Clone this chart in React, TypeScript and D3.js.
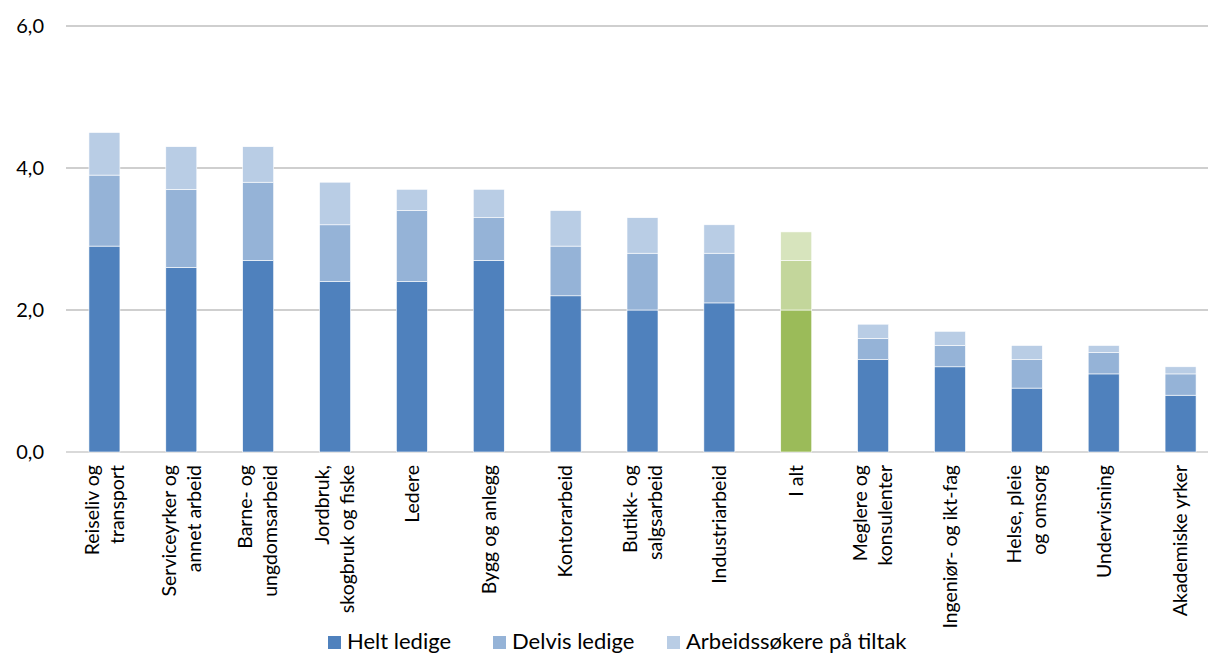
import React from "react";
import * as d3 from "d3";

const categories = [
  "Reiseliv og|transport",
  "Serviceyrker og|annet arbeid",
  "Barne- og|ungdomsarbeid",
  "Jordbruk,|skogbruk og fiske",
  "Ledere",
  "Bygg og anlegg",
  "Kontorarbeid",
  "Butikk- og|salgsarbeid",
  "Industriarbeid",
  "I alt",
  "Meglere og|konsulenter",
  "Ingeniør- og ikt-fag",
  "Helse, pleie|og omsorg",
  "Undervisning",
  "Akademiske yrker",
];
const heltLedige = [2.9, 2.6, 2.7, 2.4, 2.4, 2.7, 2.2, 2.0, 2.1, 2.0, 1.3, 1.2, 0.9, 1.1, 0.8];
const delvisLedige = [1.0, 1.1, 1.1, 0.8, 1.0, 0.6, 0.7, 0.8, 0.7, 0.7, 0.3, 0.3, 0.4, 0.3, 0.3];
const paTiltak = [0.6, 0.6, 0.5, 0.6, 0.3, 0.4, 0.5, 0.5, 0.4, 0.4, 0.2, 0.2, 0.2, 0.1, 0.1];
const seriesNames = ["Helt ledige", "Delvis ledige", "Arbeidssøkere på tiltak"];
const yTicks = [0, 2, 4, 6];
const highlight = "I alt";

const blue = ["#4f81bd", "#95b3d7", "#b9cde5"];
const green = ["#9bbb59", "#c3d69b", "#d7e4bd"];

const W = 1208;
const H = 655;
const FONT = "Lato, 'Open Sans', sans-serif";

export default function App() {
  const x = d3.scaleBand<string>().domain(categories).range([66, 1219]).paddingInner(0.6).paddingOuter(0.3);
  const y = d3.scaleLinear().domain([0, 6]).range([452, 26]);
  const rows = categories.map((c, i) => ({ c, v: [heltLedige[i], delvisLedige[i], paTiltak[i]] }));
  const stack = d3.stack<any>().keys(["0", "1", "2"]).value((d: any, k: string) => d.v[+k]);
  const layers = stack(rows);
  const bw = 31;

  return (
    <svg width={W} height={H} style={{ position: "absolute", left: 0, top: 0, background: "#fff" }} fontFamily={FONT}>
      {yTicks.map((t) => (
        <g key={t}>
          <line x1={66} x2={W} y1={y(t)} y2={y(t)} stroke={t === 0 ? "#d9d9d9" : "#bfbfbf"} strokeWidth={t === 0 ? 2 : 1.3} />
          <text x={44} y={y(t)} dy="0.35em" textAnchor="end" fontSize={20} fill="#000">
            {d3.format(".1f")(t).replace(".", ",")}
          </text>
        </g>
      ))}
      {layers.map((layer, li) =>
        layer.map((d, i) => {
          const cx = (x(categories[i]) as number) + x.bandwidth() / 2;
          const col = categories[i] === highlight ? green[li] : blue[li];
          return (
            <rect
              key={li + "-" + i}
              x={cx - bw / 2}
              width={bw}
              y={y(d[1])}
              height={y(d[0]) - y(d[1])}
              fill={col}
              stroke="#fff"
              strokeWidth={0.6}
            />
          );
        })
      )}
      {categories.map((c) => {
        const cx = (x(c) as number) + x.bandwidth() / 2;
        const lines = c.split("|");
        const lh = 25;
        return (
          <g key={c} transform={`translate(${cx},465) rotate(-90)`}>
            {lines.map((ln, j) => (
              <text
                key={j}
                x={0}
                y={(j - (lines.length - 1) / 2) * lh}
                dy="0.35em"
                textAnchor="end"
                fontSize={19.5}
                fill="#000"
              >
                {ln}
              </text>
            ))}
          </g>
        );
      })}
      {seriesNames.map((s, i) => {
        const lx = [328, 493, 667][i];
        return (
          <g key={s}>
            <rect x={lx} y={636} width={13} height={13} fill={blue[i]} />
            <text x={lx + 19} y={649} fontSize={22} fill="#000">
              {s}
            </text>
          </g>
        );
      })}
    </svg>
  );
}
